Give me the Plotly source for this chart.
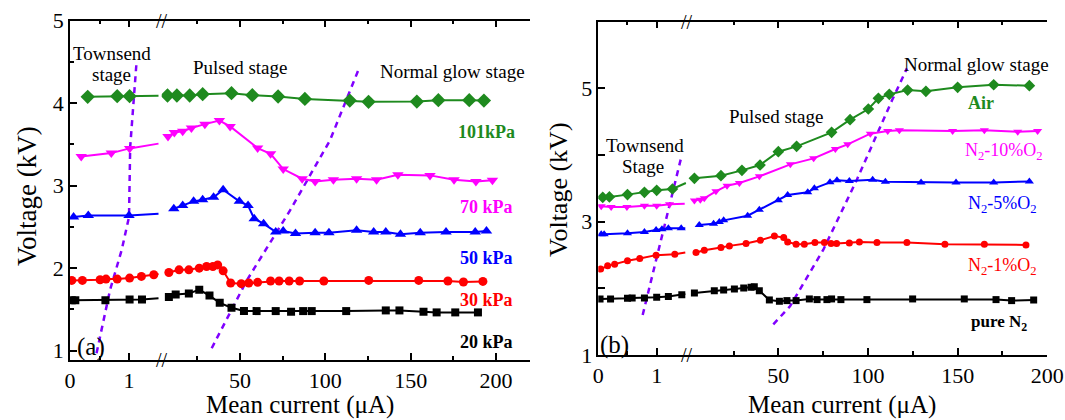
import plotly.graph_objects as go

W, H = 1065, 420
SERIF = "Liberation Serif"

# ---------------- Panel (a): different pressures ----------------
# left segment = Townsend region (0-1.5 uA); the last left point is where the line meets the axis break
a101_lx = [0.30, 0.80, 1.01, 1.50]
a101_lv = [4.077, 4.085, 4.085, 4.09]
a101_rx = [7.5, 13.0, 20.5, 28.1, 45.0, 57.2, 72.3, 88.0, 114.3, 125.3, 153.6, 166.2, 184.3, 192.9]
a101_rv = [4.093, 4.093, 4.093, 4.109, 4.121, 4.097, 4.081, 4.052, 4.032, 4.016, 4.02, 4.036, 4.036, 4.032]

a70_lx = [0.19, 0.70, 1.01, 1.50]
a70_lv = [3.355, 3.395, 3.452, 3.51]
a70_rx = [7.8, 11.5, 16.4, 21.5, 29.4, 37.9, 44.2, 60.3, 67.9, 75.3, 86.4, 94.0, 104.7, 118.3, 130.0,
          142.5, 161.3, 175.4, 188.2, 197.9]
a70_rv = [3.597, 3.645, 3.661, 3.70, 3.746, 3.79, 3.718, 3.456, 3.387, 3.202, 3.085, 3.052, 3.073, 3.085,
          3.073, 3.133, 3.125, 3.073, 3.052, 3.065]

a50_lx = [0.06, 0.31, 1.00, 1.50]
a50_lv = [2.62, 2.64, 2.64, 2.66]
a50_rx = [11.2, 16.4, 22.8, 28.1, 34.5, 40.1, 49.6, 54.7, 58.3, 63.8, 70.9, 75.3, 82.5, 94.0, 102.1,
          118.3, 128.3, 135.4, 144.0, 155.6, 170.7, 187.8, 194.4]
a50_rv = [2.72, 2.76, 2.81, 2.83, 2.86, 2.95, 2.81, 2.76, 2.60, 2.54, 2.44, 2.45, 2.42, 2.43, 2.43,
          2.46, 2.44, 2.44, 2.41, 2.43, 2.44, 2.44, 2.45]

a30_lx = [0.03, 0.21, 0.51, 0.61, 0.80, 1.01, 1.21, 1.42, 1.50]
a30_lv = [1.852, 1.852, 1.86, 1.868, 1.868, 1.88, 1.90, 1.92, 1.93]
a30_rx = [8.3, 14.3, 20.0, 26.1, 30.4, 34.1, 36.9, 40.1, 44.5, 50.7, 55.1, 60.3, 67.9, 72.9, 78.8,
          84.9, 99.1, 125.4, 154.7, 171.8, 180.9, 192.3]
a30_rv = [1.948, 1.98, 1.98, 2.0, 2.02, 2.02, 2.04, 1.968, 1.82, 1.812, 1.82, 1.828, 1.844, 1.844,
          1.844, 1.844, 1.844, 1.852, 1.852, 1.844, 1.832, 1.84]

a20_lx = [0.03, 0.09, 0.60, 1.01, 1.22, 1.50]
a20_lv = [1.612, 1.612, 1.612, 1.62, 1.62, 1.636]
a20_rx = [8.3, 12.3, 20.0, 26.1, 32.1, 38.1, 45.0, 52.3, 59.7, 70.9, 79.9, 87.0, 92.0, 112.2, 135.4,
          143.4, 157.5, 165.2, 176.1, 189.4]
a20_rv = [1.652, 1.68, 1.692, 1.74, 1.668, 1.58, 1.52, 1.48, 1.48, 1.48, 1.472, 1.48, 1.48, 1.48,
          1.488, 1.488, 1.472, 1.464, 1.464, 1.464]

# stage-boundary guide lines of panel (a)
a_guide_lx = [0.45, 0.68, 0.876, 1.0, 1.02, 1.07, 1.13]
a_guide_lv = [0.97, 1.74, 2.22, 2.62, 3.47, 4.0, 4.52]
a_guide_rx = [33.4, 53.9, 79.3, 102.7, 119.3]
a_guide_rv = [1.03, 1.85, 2.70, 3.55, 4.40]

# ---------------- Panel (b): different gas mixtures ----------------
bair_lx = [0.076, 0.19, 0.50, 0.79, 1.00, 1.27, 1.50]
bair_lv = [3.366, 3.371, 3.406, 3.44, 3.47, 3.49, 3.58]
bair_rx = [3.2, 18.0, 29.7, 39.8, 50.0, 60.2, 79.7, 90.0, 100.2, 105.8, 111.9, 122.1, 132.3, 150.0,
           170.1, 190.0]
bair_rv = [3.65, 3.69, 3.77, 3.85, 4.05, 4.13, 4.34, 4.53, 4.69, 4.85, 4.91, 4.975, 4.955, 5.015,
           5.054, 5.04]

b10_lx = [0.05, 0.22, 0.49, 0.79, 1.00, 1.22, 1.48]
b10_lv = [3.233, 3.22, 3.22, 3.24, 3.24, 3.26, 3.27]
b10_rx = [3.2, 6.5, 8.7, 15.2, 21.4, 28.3, 39.4, 56.7, 69.7, 81.8, 88.7, 101.3, 111.0, 117.5, 147.2,
          164.9, 183.5, 194.6]
b10_rv = [3.317, 3.33, 3.35, 3.456, 3.54, 3.58, 3.68, 3.86, 3.95, 4.09, 4.16, 4.32, 4.36, 4.37, 4.36,
          4.37, 4.35, 4.36]

b5_lx = [0.05, 0.10, 0.50, 0.79, 0.99, 1.09, 1.20, 1.42, 1.49]
b5_lv = [2.81, 2.81, 2.826, 2.846, 2.876, 2.886, 2.90, 2.90, 2.90]
b5_rx = [5.9, 13.9, 17.1, 19.5, 32.9, 39.4, 50.0, 55.2, 66.4, 70.1, 78.8, 82.7, 89.6, 102.6, 109.7,
         129.6, 149.1, 170.1, 190.0]
b5_rv = [2.95, 2.97, 2.995, 3.02, 3.09, 3.18, 3.32, 3.40, 3.44, 3.50, 3.59, 3.62, 3.61, 3.63, 3.60,
         3.589, 3.589, 3.589, 3.604]

b1_lx = [0.04, 0.16, 0.28, 0.50, 0.71, 0.99, 1.31, 1.49]
b1_lv = [2.289, 2.338, 2.363, 2.413, 2.448, 2.498, 2.512, 2.537]
b1_rx = [4.1, 8.7, 18.0, 22.7, 32.0, 40.0, 47.8, 53.0, 55.2, 59.9, 64.5, 70.4, 75.7, 79.4, 82.5, 89.6,
         95.2, 105.0, 121.7, 142.9, 164.9, 188.1]
b1_rv = [2.537, 2.572, 2.612, 2.637, 2.672, 2.721, 2.786, 2.761, 2.697, 2.662, 2.662, 2.687, 2.687,
         2.672, 2.672, 2.682, 2.697, 2.687, 2.687, 2.662, 2.662, 2.652]

bn2_lx = [0.03, 0.21, 0.50, 0.58, 0.79, 1.00, 1.20, 1.43, 1.49]
bn2_lv = [1.841, 1.841, 1.851, 1.856, 1.856, 1.866, 1.876, 1.905, 1.915]
bn2_rx = [3.2, 14.3, 19.5, 25.5, 30.7, 34.8, 36.6, 39.4, 45.0, 50.6, 54.8, 59.9, 67.3, 71.6, 77.1,
          79.7, 84.9, 99.4, 124.9, 153.7, 171.4, 180.1, 192.4]
bn2_rv = [1.93, 1.965, 1.975, 1.99, 2.005, 2.015, 2.025, 1.965, 1.826, 1.806, 1.816, 1.816, 1.841,
          1.831, 1.831, 1.841, 1.831, 1.831, 1.841, 1.841, 1.831, 1.816, 1.826]

b_guide_lx = [0.76, 1.43]
b_guide_lv = [1.60, 4.00]
b_guide_rx = [47.2, 56.5, 75.1, 93.8, 113.4, 121.7]
b_guide_rv = [1.46, 1.73, 2.58, 3.63, 4.82, 5.30]

# tick labels
a_left_ticks = [0, 1]
right_ticks = [50, 100, 150, 200]
right_minor = [25, 75, 125, 175]
a_yticks = [1, 2, 3, 4, 5]
b_yticks = [1, 2, 3, 4, 5, 6]
b_yticktext = ["1", "", "3", "", "5", ""]

GREEN, MAG, BLUE, RED, BLACK = "#1E8A1E", "#FF00FF", "#0000FF", "#FF0000", "#000000"
GUIDE = "#8000FF"

fig = go.Figure()


def add_series(xl, vl, xr, vr, color, symbol, size, xa_l, xa_r, ya):
    # left segment line runs on to the axis break; markers only on measured points
    fig.add_trace(go.Scatter(x=xl, y=vl, xaxis=xa_l, yaxis=ya, mode="lines",
                             line=dict(color=color, width=2), showlegend=False))
    fig.add_trace(go.Scatter(x=xl[:-1], y=vl[:-1], xaxis=xa_l, yaxis=ya, mode="markers",
                             marker=dict(symbol=symbol, size=size, color=color, opacity=1),
                             showlegend=False))
    fig.add_trace(go.Scatter(x=xr, y=vr, xaxis=xa_r, yaxis=ya, mode="lines+markers",
                             line=dict(color=color, width=2),
                             marker=dict(symbol=symbol, size=size, color=color, opacity=1),
                             showlegend=False))


def add_guide(x, v, xa, ya):
    fig.add_trace(go.Scatter(x=x, y=v, xaxis=xa, yaxis=ya, mode="lines",
                             line=dict(color=GUIDE, width=2.5, dash="6px,5px"),
                             showlegend=False))


add_guide(a_guide_lx, a_guide_lv, "x", "y")
add_guide(a_guide_rx, a_guide_rv, "x2", "y")
add_series(a101_lx, a101_lv, a101_rx, a101_rv, GREEN, "diamond", 11, "x", "x2", "y")
add_series(a70_lx, a70_lv, a70_rx, a70_rv, MAG, "triangle-down", 10, "x", "x2", "y")
add_series(a50_lx, a50_lv, a50_rx, a50_rv, BLUE, "triangle-up", 10, "x", "x2", "y")
add_series(a30_lx, a30_lv, a30_rx, a30_rv, RED, "circle", 9, "x", "x2", "y")
add_series(a20_lx, a20_lv, a20_rx, a20_rv, BLACK, "square", 8, "x", "x2", "y")

add_guide(b_guide_lx, b_guide_lv, "x3", "y3")
add_guide(b_guide_rx, b_guide_rv, "x4", "y3")
add_series(bair_lx, bair_lv, bair_rx, bair_rv, GREEN, "diamond", 9, "x3", "x4", "y3")
add_series(b10_lx, b10_lv, b10_rx, b10_rv, MAG, "triangle-down", 8, "x3", "x4", "y3")
add_series(b5_lx, b5_lv, b5_rx, b5_rv, BLUE, "triangle-up", 8, "x3", "x4", "y3")
add_series(b1_lx, b1_lv, b1_rx, b1_rv, RED, "circle", 7, "x3", "x4", "y3")
add_series(bn2_lx, bn2_lv, bn2_rx, bn2_rv, BLACK, "square", 7, "x3", "x4", "y3")


def fx(p):
    return p / W


def fy(p):
    return 1 - p / H


AX = dict(showline=True, linecolor="black", linewidth=1.5, ticks="inside", ticklen=7,
          tickwidth=1.5, tickcolor="black", showgrid=False, zeroline=False, automargin=False,
          tickfont=dict(family=SERIF, size=22, color="black"))
MINOR = dict(ticks="inside", ticklen=4, tickwidth=1.5, tickcolor="black", showgrid=False)

# panel (a) geometry (pixels)
aL, aB, aR, aT, aY = 70, 161.7, 530, 20.7, 360
# panel (b) geometry (pixels)
bL, bB, bR, bT, bY = 598.3, 686.7, 1047.3, 21.7, 355

fig.update_layout(
    width=W, height=H, margin=dict(l=0, r=0, t=0, b=0, pad=0, autoexpand=False),
    plot_bgcolor="white", paper_bgcolor="white", showlegend=False,
    xaxis=dict(**AX, domain=[fx(aL), fx(aB)], range=[0, 1.554], anchor="y",
               tickvals=a_left_ticks, mirror="allticks", minor=dict(**MINOR, tickvals=[0.5])),
    xaxis2=dict(**AX, domain=[fx(aB), fx(aR)], range=[4.1, 219.9], anchor="y",
                tickvals=right_ticks, mirror="allticks", minor=dict(**MINOR, tickvals=right_minor)),
    yaxis=dict(**AX, domain=[fy(aY), fy(aT)], range=[0.887, 5], anchor="x",
               tickvals=a_yticks, minor=dict(**MINOR, dtick=0.5, tick0=0)),
    yaxis2=dict(**AX, overlaying="y", range=[0.887, 5], anchor="x2", side="right",
                tickvals=a_yticks, showticklabels=False, minor=dict(**MINOR, dtick=0.5, tick0=0)),
    xaxis3=dict(**AX, domain=[fx(bL), fx(bB)], range=[0, 1.514], anchor="y3",
                tickvals=a_left_ticks, mirror="allticks", minor=dict(**MINOR, tickvals=[0.5])),
    xaxis4=dict(**AX, domain=[fx(bB), fx(bR)], range=[-1.1, 200], anchor="y3",
                tickvals=right_ticks, mirror="allticks", minor=dict(**MINOR, tickvals=right_minor)),
    yaxis3=dict(**AX, domain=[fy(bY), fy(bT)], range=[1, 6], anchor="x3",
                tickvals=b_yticks, ticktext=b_yticktext),
    yaxis4=dict(**AX, overlaying="y3", range=[1, 6], anchor="x4", side="right",
                tickvals=b_yticks, showticklabels=False),
)


def txt(x, y, s, size=19, color="black", bold=False, angle=0, xanchor="center"):
    if bold:
        s = "<b>" + s + "</b>"
    fig.add_annotation(x=fx(x), y=fy(y), xref="paper", yref="paper", text=s, showarrow=False,
                       xanchor=xanchor, yanchor="middle", textangle=angle,
                       font=dict(family=SERIF, size=size, color=color))


# axis titles
txt(300, 405, "Mean current (μA)", size=25)
txt(842, 405, "Mean current (μA)", size=25)
txt(27, 196, "Voltage (kV)", size=27, angle=-90)
txt(559, 190, "Voltage (kV)", size=26, angle=-90)

# axis-break marks
for bx, ty, by in [(aB, aT, aY), (bB, bT, bY)]:
    txt(bx, ty, "//", size=20)
    txt(bx, by, "//", size=20)

# panel (a) labels
txt(112, 53, "Townsend", size=19)
txt(111, 74, "stage", size=19)
txt(240, 67, "Pulsed stage", size=19)
txt(452, 71, "Normal glow stage", size=19)
txt(486, 132, "101kPa", size=18, color=GREEN, bold=True)
txt(486, 207, "70 kPa", size=18, color=MAG, bold=True)
txt(486, 258, "50 kPa", size=18, color=BLUE, bold=True)
txt(486, 300, "30 kPa", size=18, color=RED, bold=True)
txt(486, 342, "20 kPa", size=18, color=BLACK, bold=True)
txt(91, 347, "(a)", size=25)

# panel (b) labels
txt(645, 145, "Townsend", size=19)
txt(643, 167, "Stage", size=19)
txt(776, 116, "Pulsed stage", size=19)
txt(976, 64, "Normal glow stage", size=19)
txt(981, 103, "Air", size=18, color=GREEN, bold=True)
txt(1004, 151, "N<sub>2</sub>-10%O<sub>2</sub>", size=18, color=MAG)
txt(1002, 204, "N<sub>2</sub>-5%O<sub>2</sub>", size=18, color=BLUE)
txt(1002, 266, "N<sub>2</sub>-1%O<sub>2</sub>", size=18, color=RED)
txt(999, 323, "pure N<sub>2</sub>", size=17, color=BLACK, bold=True)
txt(614, 345, "(b)", size=25)

fig.write_html("out.html", config={"displayModeBar": False},
               post_script="document.body.style.margin='0';document.body.style.overflow='hidden';")
